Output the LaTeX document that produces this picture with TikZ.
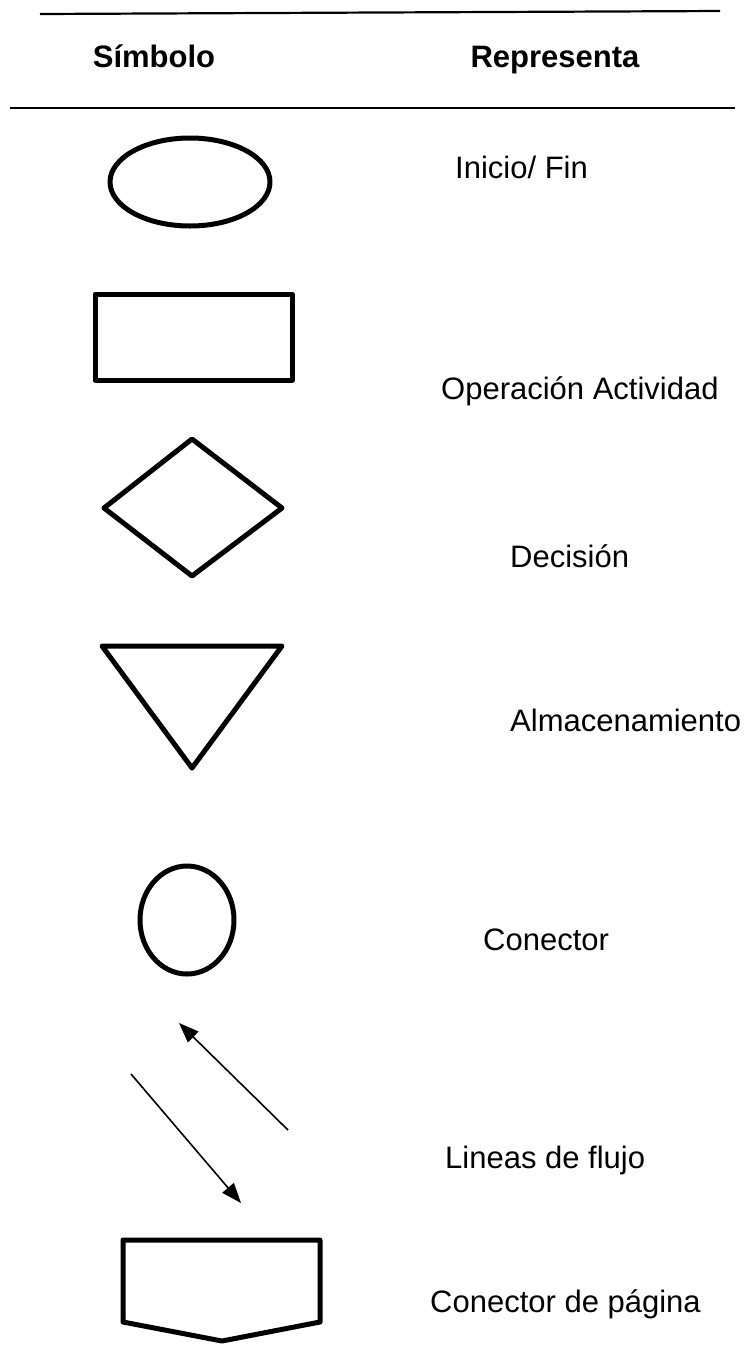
\documentclass[tikz,border=0pt]{standalone}
\usepackage{fontspec}
\setmainfont{Liberation Sans}
\usetikzlibrary{arrows.meta}
\tikzset{
  symbol/.style={line width=5pt, line join=round, line cap=round},
  rule/.style={line width=2.2pt},
  flow/.style={line width=1.6pt, -{Triangle[length=20pt,width=15pt]}},
  label/.style={anchor=west, inner sep=0pt, font=\fontsize{31}{37}\selectfont},
  head/.style={anchor=base, inner sep=0pt, font=\fontsize{31}{37}\selectfont\bfseries}
}
\begin{document}
\begin{tikzpicture}[x=1pt, y=-1pt]
\useasboundingbox (0,0) rectangle (746,1345);

% header rules and titles
\draw[rule] (40,14) -- (720,11);
\draw[rule] (10,108) -- (735,108);
\node[head] (hsym) at (154,67) {Símbolo};
\node[head] (hrep) at (555,67) {Representa};

% start / end
\draw[symbol] (190,182) ellipse [x radius=80, y radius=44];
\node[label] (t1) at (455,167) {Inicio/ Fin};

% operation
\draw[symbol] (95,294) rectangle (292,380);
\node[label] (t2) at (441,391) {Operación Actividad};

% decision
\draw[symbol] (192,439) -- (282,508) -- (192,576) -- (104,508) -- cycle;
\node[label] (t3) at (510,556) {Decisión};

% storage
\draw[symbol] (102,646) -- (282,646) -- (192,768) -- cycle;
\node[label] (t4) at (510,720) {Almacenamiento};

% connector
\draw[symbol] (187,920) ellipse [x radius=47, y radius=54];
\node[label] (t5) at (483,940) {Conector};

% flow lines
\coordinate (f1s) at (288,1130);
\coordinate (f1e) at (179,1023);
\coordinate (f2s) at (131,1074);
\coordinate (f2e) at (241,1203);
\draw[flow] (f1s) -- (f1e);
\draw[flow] (f2s) -- (f2e);
\node[label] (t6) at (445,1160) {Lineas de flujo};

% off-page connector
\draw[symbol] (123,1240) -- (320,1240) -- (320,1322) -- (222,1341) -- (123,1322) -- cycle;
\node[label] (t7) at (430,1304) {Conector de página};
\end{tikzpicture}
\end{document}
